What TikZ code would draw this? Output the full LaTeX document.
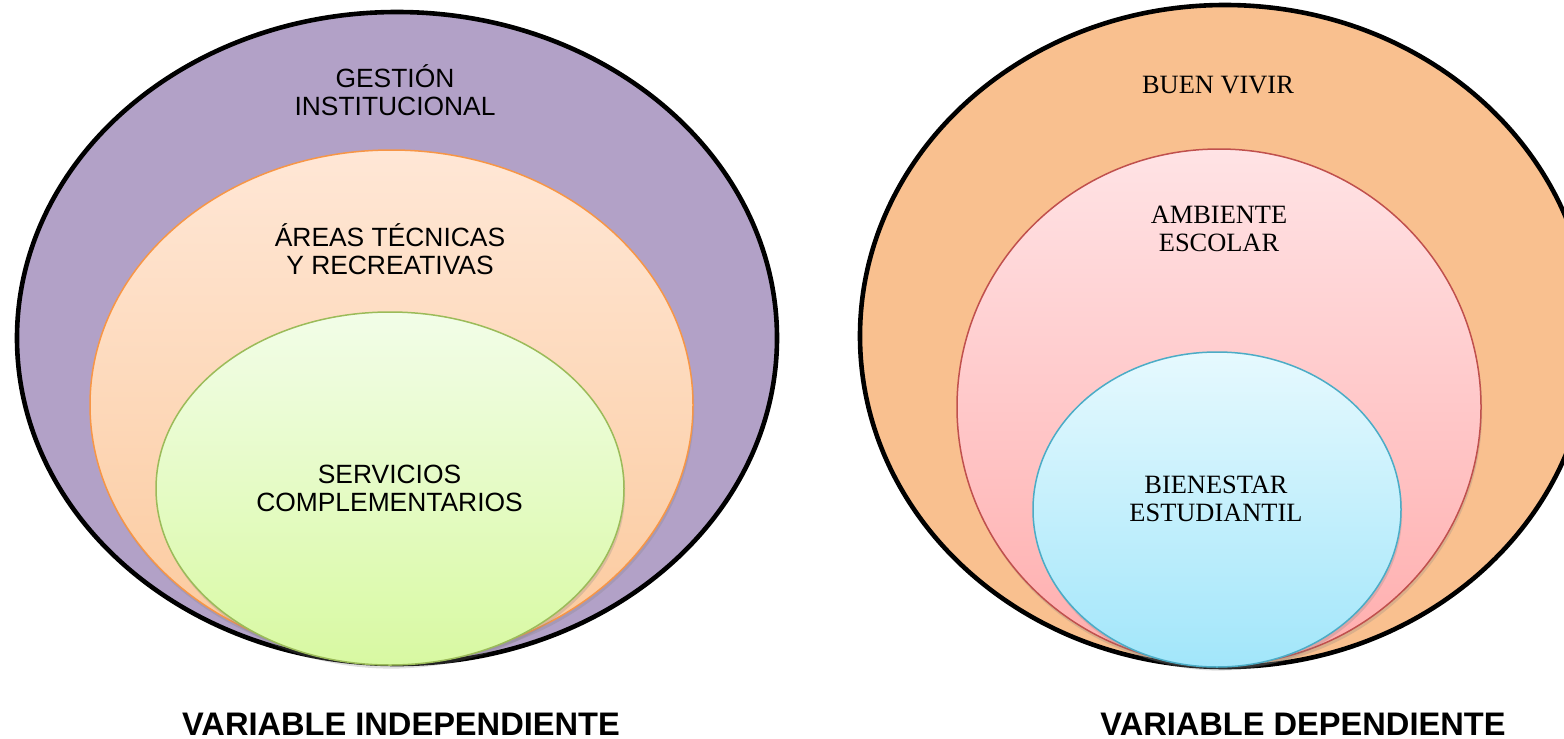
\documentclass[tikz,border=0pt]{standalone}
\usepackage{fontspec}
\setmainfont{Liberation Serif}
\newfontfamily\arialfont{Liberation Sans}
\usetikzlibrary{shadows}
\definecolor{lilac}{HTML}{B2A1C7}
\definecolor{peach}{HTML}{F9C08F}
\definecolor{orangeline}{HTML}{F79646}
\definecolor{greenline}{HTML}{9BBB59}
\definecolor{redline}{HTML}{C0504D}
\definecolor{blueline}{HTML}{4BACC6}
\tikzset{
  outerring/.style={draw=black, line width=2.3pt},
  innerring/.style={line width=0.75pt, drop shadow={shadow xshift=0.6pt, shadow yshift=-1.8pt, opacity=0.25}},
  sanslbl/.style={font=\arialfont\fontsize{13.2}{14}\selectfont, align=center, inner sep=0pt},
  seriflbl/.style={font=\fontsize{13.2}{14}\selectfont, align=center, inner sep=0pt},
  varlbl/.style={font=\arialfont\bfseries\fontsize{16.3}{18}\selectfont, inner sep=0pt, anchor=base}
}
\begin{document}
\begin{tikzpicture}[x=0.5pt,y=-0.5pt]
\useasboundingbox (0,0) rectangle (1564,739);
\clip (0,0) rectangle (1564,739);

\path[outerring, fill=lilac] (397,338) ellipse [x radius=380, y radius=326];
\path[innerring, draw=orangeline, top color={rgb,255:red,255;green,231;blue,214}, bottom color={rgb,255:red,251;green,201;blue,156}] (391.5,405) ellipse [x radius=301.5, y radius=255];
\path[innerring, draw=greenline, top color={rgb,255:red,242;green,253;blue,232}, bottom color={rgb,255:red,216;green,249;blue,162}] (390,488.5) ellipse [x radius=234, y radius=176.5];

\path[outerring, fill=peach] (1225,336) ellipse [x radius=365, y radius=331];
\path[innerring, draw=redline, top color={rgb,255:red,255;green,227;blue,229}, bottom color={rgb,255:red,255;green,173;blue,173}] (1219,407) ellipse [x radius=262, y radius=258];
\path[innerring, draw=blueline, top color={rgb,255:red,230;green,249;blue,254}, bottom color={rgb,255:red,162;green,230;blue,250}] (1217,509.5) ellipse [x radius=184, y radius=157.5];

\node[sanslbl] (gestion) at (395,90) {GESTIÓN\\INSTITUCIONAL};
\node[sanslbl] (areas) at (390,249) {ÁREAS TÉCNICAS\\Y RECREATIVAS};
\node[sanslbl] (servicios) at (389.5,488) {SERVICIOS\\COMPLEMENTARIOS};

\node[seriflbl, anchor=base] (buenvivir) at (1218,93) {BUEN VIVIR};
\node[seriflbl] (ambiente) at (1219,228.5) {AMBIENTE\\ESCOLAR};
\node[seriflbl] (bienestar) at (1216,499) {BIENESTAR\\ESTUDIANTIL};

\node[varlbl] (indep) at (401,735) {VARIABLE INDEPENDIENTE};
\node[varlbl] (dep) at (1303,735) {VARIABLE DEPENDIENTE};
\end{tikzpicture}
\end{document}
